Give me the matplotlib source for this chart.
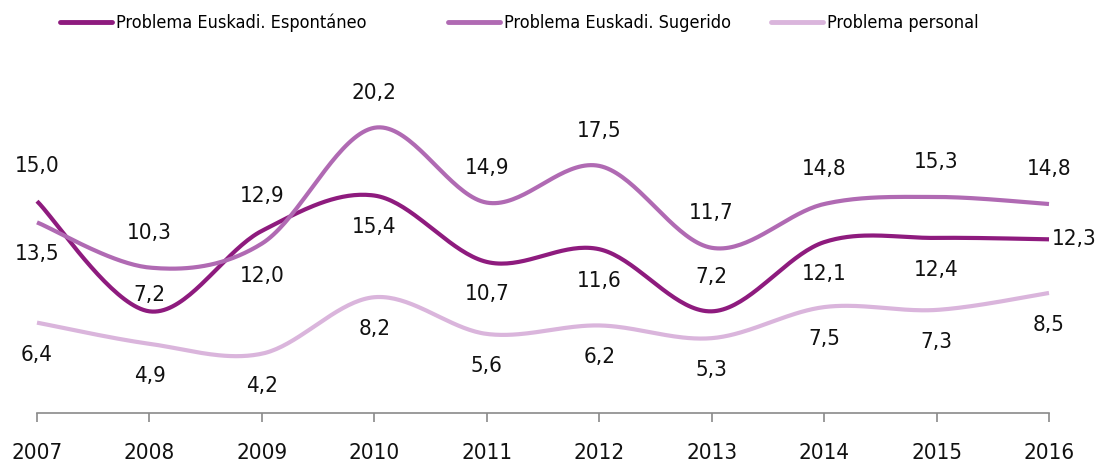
import numpy as np
import matplotlib
matplotlib.use("Agg")
import matplotlib.pyplot as plt
from matplotlib import font_manager
from matplotlib.lines import Line2D

# ── data ─────────────────────────────────────────────────────────────────────
years = [2007, 2008, 2009, 2010, 2011, 2012, 2013, 2014, 2015, 2016]
espontaneo = [15.0, 7.2, 12.9, 15.4, 10.7, 11.6, 7.2, 12.1, 12.4, 12.3]
sugerido = [13.5, 10.3, 12.0, 20.2, 14.9, 17.5, 11.7, 14.8, 15.3, 14.8]
personal = [6.4, 4.9, 4.2, 8.2, 5.6, 6.2, 5.3, 7.5, 7.3, 8.5]

series_names = ["Problema Euskadi. Espontáneo",
                "Problema Euskadi. Sugerido",
                "Problema personal"]

# ── font: the original uses a narrow face, take the narrowest we have ──────
entries = font_manager.fontManager.ttflist
names = {f.name for f in entries}
stretch = "normal"
if "Liberation Sans Narrow" in names:
    family = "Liberation Sans Narrow"
elif any(f.name == "DejaVu Sans" and f.stretch == "condensed" for f in entries):
    family, stretch = "DejaVu Sans", "condensed"
else:
    family = "Roboto"
plt.rcParams["font.family"] = [family, "DejaVu Sans"]
plt.rcParams["font.stretch"] = stretch

# ── styling ──────────────────────────────────────────────────────────────────
colors = ["#8E1B7E", "#B06AB3", "#DAB5DC"]
# label placement per point: a = above, b = below, n = near above, r = right
place_esp = ["a", "n", "a", "b", "b", "b", "a", "b", "b", "r"]
place_sug = ["b", "a", "b", "a", "a", "a", "a", "a", "a", "a"]
place_per = ["b"] * 10
offsets = {"a": (0, 25), "n": (0, 12), "b": (0, -23), "r": (2, 0)}
legend_x = [60, 448, 771]   # left edge of each legend entry, in pixels


def smooth(x, y, n=40):
    """Excel-like smoothed line: cubic Bezier with Catmull-Rom controls."""
    x = np.asarray(x, float)
    y = np.asarray(y, float)
    px = np.concatenate([[x[0]], x, [x[-1]]])
    py = np.concatenate([[y[0]], y, [y[-1]]])
    xs, ys = [], []
    t = np.linspace(0, 1, n)
    for i in range(1, len(px) - 2):
        p0 = np.array([px[i], py[i]])
        p3 = np.array([px[i + 1], py[i + 1]])
        c1 = p0 + (np.array([px[i + 1], py[i + 1]]) - np.array([px[i - 1], py[i - 1]])) / 6
        c2 = p3 - (np.array([px[i + 2], py[i + 2]]) - np.array([px[i], py[i]])) / 6
        b = ((1 - t) ** 3)[:, None] * p0 + (3 * (1 - t) ** 2 * t)[:, None] * c1 \
            + (3 * (1 - t) * t ** 2)[:, None] * c2 + (t ** 3)[:, None] * p3
        xs.extend(b[:, 0])
        ys.extend(b[:, 1])
    return xs, ys


fig = plt.figure(figsize=(10.96, 4.63), dpi=100)
ax = fig.add_axes([37 / 1096, 1 - 413 / 463, (1049 - 37) / 1096, 353 / 463])

all_series = [espontaneo, sugerido, personal]
all_places = [place_esp, place_sug, place_per]

for vals, col, places in zip(all_series, colors, all_places):
    sx, sy = smooth(years, vals)
    ax.plot(sx, sy, color=col, lw=3, solid_capstyle="butt", clip_on=False)
    for xv, yv, p in zip(years, vals, places):
        dx, dy = offsets[p]
        ha = "left" if p == "r" else "center"
        ax.annotate(f"{yv:.1f}".replace(".", ","), (xv, yv),
                    xytext=(dx, dy), textcoords="offset points",
                    ha=ha, va="center", fontsize=16, color="#111111")

ax.set_xlim(2007, 2016)
ax.set_ylim(0, 25)
ax.set_xticks(years)
ax.set_xticklabels([str(y) for y in years], fontsize=16, color="#111111")
ax.set_yticks([])
for s in ["top", "right", "left"]:
    ax.spines[s].set_visible(False)
ax.spines["bottom"].set_color("#8A8A8A")
ax.spines["bottom"].set_linewidth(1.2)
ax.tick_params(axis="x", direction="out", length=6.5, width=1.2,
               color="#8A8A8A", pad=15)

# legend entries sit at uneven spacing in the original, so place each one
for name, col, lx in zip(series_names, colors, legend_x):
    h = Line2D([0], [0], color=col, lw=3.5, solid_capstyle="round")
    fig.legend([h], [name], loc="center left", bbox_to_anchor=(lx / 1096, 1 - 23 / 463),
               frameon=False, fontsize=13, handlelength=2.9, handletextpad=0.2,
               borderpad=0, borderaxespad=0)

fig.savefig("out.png", dpi=100)
